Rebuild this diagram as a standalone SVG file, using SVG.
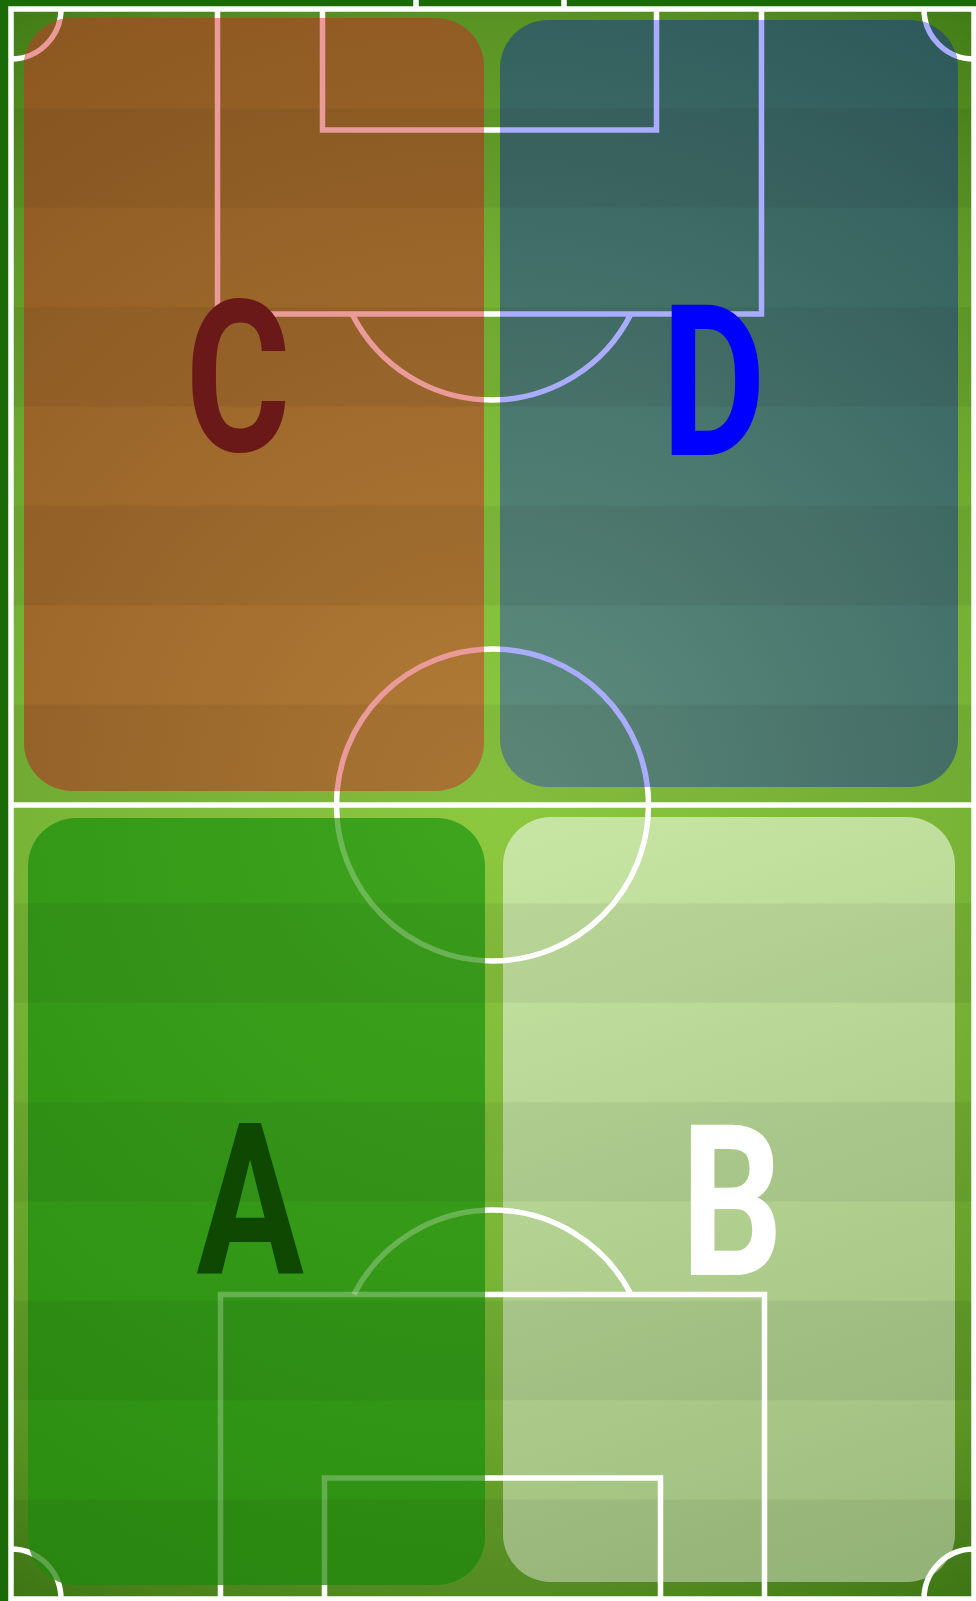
<svg xmlns="http://www.w3.org/2000/svg" xmlns:xlink="http://www.w3.org/1999/xlink" width="976" height="1601" viewBox="0 0 976 1601">
<style>
.marks{fill:none;stroke-width:5.5}
.letter{font-family:Roboto,"Liberation Sans",sans-serif;font-weight:700;font-size:211px;text-anchor:middle}
</style>
<defs>
<radialGradient id="gField" gradientUnits="userSpaceOnUse" cx="492" cy="805" r="950">
<stop offset="0" stop-color="#8dc840"/><stop offset="0.5" stop-color="#78b536"/><stop offset="0.82" stop-color="#5a9424"/><stop offset="1" stop-color="#3e7814"/>
</radialGradient>
<radialGradient id="gC" gradientUnits="userSpaceOnUse" cx="492" cy="805" r="950">
<stop offset="0" stop-color="#b27c37"/><stop offset="1" stop-color="#8a5620"/>
</radialGradient>
<radialGradient id="gD" gradientUnits="userSpaceOnUse" cx="492" cy="805" r="950">
<stop offset="0" stop-color="#62907f"/><stop offset="1" stop-color="#2b5658"/>
</radialGradient>
<radialGradient id="gA" gradientUnits="userSpaceOnUse" cx="492" cy="805" r="950">
<stop offset="0" stop-color="#3ea51e"/><stop offset="1" stop-color="#2a8c10"/>
</radialGradient>
<linearGradient id="gB" gradientUnits="userSpaceOnUse" x1="600" y1="817" x2="860" y2="1582">
<stop offset="0" stop-color="#c6e4a2"/><stop offset="1" stop-color="#9dbd7e"/>
</linearGradient>
<pattern id="stripes" patternUnits="userSpaceOnUse" x="0" y="9" width="20" height="198.75">
<rect x="0" y="99.375" width="20" height="99.375" fill="#000" fill-opacity="0.055"/>
</pattern>
<clipPath id="clipC"><rect x="24" y="18" width="460" height="773" rx="48"/></clipPath>
<clipPath id="clipD"><rect x="500" y="20" width="458" height="767" rx="48"/></clipPath>
<clipPath id="clipA"><rect x="28" y="818" width="457" height="767" rx="48"/></clipPath>
<clipPath id="clipB"><rect x="503" y="817" width="452" height="765" rx="48"/></clipPath>
<g id="lines">
<rect x="11" y="9" width="963" height="1590"/>
<line x1="11" y1="805" x2="974" y2="805"/>
<circle cx="492.5" cy="805" r="156"/>
<path d="M217.5 9 V314 H761.5 V9"/>
<path d="M322.5 9 V130 H656.5 V9"/>
<path d="M352.1 314 A156 156 0 0 0 630.9 314"/>
<path d="M220.5 1599 V1294.5 H764.5 V1599"/>
<path d="M324.5 1599 V1478 H660.5 V1599"/>
<path d="M353.9 1294.5 A156 156 0 0 1 631.1 1294.5"/>
<path d="M11 59 A50 50 0 0 0 61 9"/>
<path d="M924 9 A50 50 0 0 0 974 59"/>
<path d="M11 1549 A50 50 0 0 1 61 1599"/>
<path d="M924 1599 A50 50 0 0 1 974 1549"/>
<path d="M416 -5 V9 M564 -5 V9"/>
</g>
</defs>
<g id="pitch">
<rect x="0" y="0" width="976" height="1601" fill="#1a6a08"/>
<rect x="11" y="9" width="963" height="1590" fill="url(#gField)"/>
<rect x="11" y="9" width="963" height="1590" fill="url(#stripes)"/>
<use xlink:href="#lines" class="marks" stroke="#ffffff"/>
</g>
<g id="zone-C">
<rect x="24" y="18" width="460" height="773" rx="48" fill="url(#gC)"/>
<rect x="24" y="18" width="460" height="773" rx="48" fill="url(#stripes)"/>
<g clip-path="url(#clipC)"><use xlink:href="#lines" class="marks" stroke="#e99a99"/></g>
<text class="letter" fill="#6b1818" transform="translate(238 451) scale(0.76 1)">C</text>
</g>
<g id="zone-D">
<rect x="500" y="20" width="458" height="767" rx="48" fill="url(#gD)"/>
<rect x="500" y="20" width="458" height="767" rx="48" fill="url(#stripes)"/>
<g clip-path="url(#clipD)"><use xlink:href="#lines" class="marks" stroke="#a9acff"/></g>
<text class="letter" fill="#0000ff" transform="translate(713.5 455) scale(0.76 1)">D</text>
</g>
<g id="zone-A">
<rect x="28" y="818" width="457" height="767" rx="48" fill="url(#gA)"/>
<rect x="28" y="818" width="457" height="767" rx="48" fill="url(#stripes)"/>
<g clip-path="url(#clipA)"><use xlink:href="#lines" class="marks" stroke="#ffffff" stroke-opacity="0.25"/></g>
<text class="letter" fill="#0f4800" transform="translate(250 1274) scale(0.76 1)">A</text>
</g>
<g id="zone-B">
<rect x="503" y="817" width="452" height="765" rx="48" fill="url(#gB)"/>
<rect x="503" y="817" width="452" height="765" rx="48" fill="url(#stripes)"/>
<g clip-path="url(#clipB)"><use xlink:href="#lines" class="marks" stroke="#ffffff"/></g>
<text class="letter" fill="#ffffff" transform="translate(732 1275) scale(0.76 1)">B</text>
</g>
</svg>
